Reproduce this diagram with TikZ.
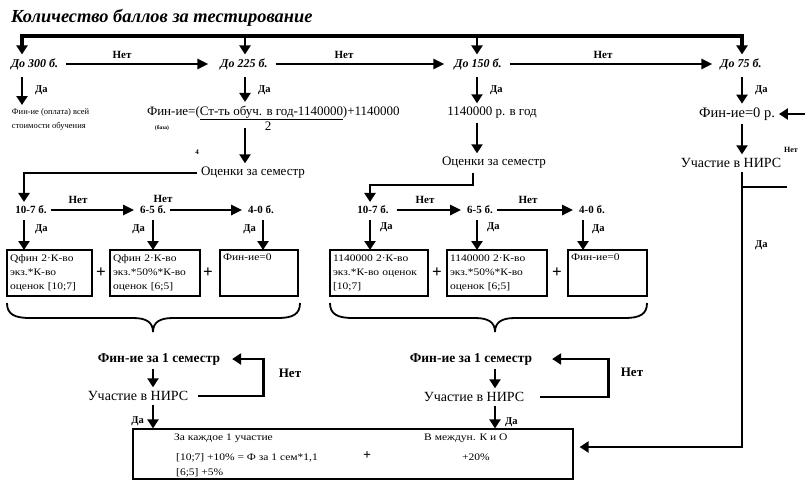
\documentclass[tikz,border=0pt]{standalone}
\usepackage{fontspec}
\setmainfont{Liberation Serif}
\newfontfamily\widefont[FakeStretch=1.15]{Liberation Serif}
\usetikzlibrary{arrows.meta,calc}
\begin{document}
\begin{tikzpicture}[x=1pt,y=-1pt,
  ttl/.style={font=\fontsize{18.4}{20}\selectfont\bfseries\itshape, inner sep=0pt},
  rowa/.style={font=\fontsize{12}{13}\selectfont\bfseries\itshape, inner sep=1pt, outer sep=3pt},
  rowc/.style={font=\fontsize{11}{12}\selectfont\bfseries, inner sep=1pt, outer sep=3pt},
  mid/.style={font=\fontsize{13}{14}\selectfont, inner sep=1pt, outer sep=3pt},
  big/.style={font=\fontsize{14}{15}\selectfont, inner sep=1pt, outer sep=3pt},
  midb/.style={font=\fontsize{13.5}{15}\selectfont\bfseries, inner sep=1pt, outer sep=3pt},
  small/.style={font=\fontsize{8.5}{14}\selectfont, inner sep=1pt, outer sep=3pt},
  yn/.style={font=\fontsize{10.5}{11}\selectfont\bfseries, inner sep=0pt},
  ynn/.style={font=\fontsize{11}{12}\selectfont\bfseries, inner sep=0pt},
  ynb/.style={font=\fontsize{13}{14}\selectfont\bfseries, inner sep=0pt},
  box/.style={draw, line width=1.2pt, inner xsep=3pt, inner ysep=3pt, align=left,
    font=\widefont\fontsize{10}{14}\selectfont, minimum height=46pt, outer sep=0pt},
  btxt/.style={font=\widefont\fontsize{10}{11}\selectfont, anchor=west, inner sep=0pt},
  plus/.style={font=\fontsize{17}{17}\selectfont\bfseries, inner sep=0pt},
  arr/.style={line width=2.8pt, line join=miter, -{Triangle[width=11pt,length=9pt]}},
  harr/.style={line width=2.6pt, -{Triangle[width=10pt,length=11pt]}},
  ln/.style={line width=2.8pt},
  brc/.style={line width=1.8pt},
  dbl/.style={double, double distance=1.6pt, line width=0.6pt}
]
\useasboundingbox (0,0) rectangle (805,480);

% title and bus
\node[ttl, anchor=west] (title) at (11,18) {Количество баллов за тестирование};
\coordinate (b1) at (22,36);
\coordinate (b2) at (245,36);
\coordinate (b3) at (477,36);
\coordinate (b4) at (742,36);

% row 1
\node[rowa, anchor=west] (d300) at (7,64) {До 300 б.};
\node[rowa] (d225) at (244,64) {До 225 б.};
\node[rowa] (d150) at (478,64) {До 150 б.};
\node[rowa] (d75) at (741,64) {До 75 б.};

\draw[arr, line width=3.2pt] (b4) -- (b1) -- (b1 |- d300.north);
\draw[arr, line width=3.2pt] (b1) -- (b4) -- (b4 |- d75.north);
\draw[arr] (b2) -- (b2 |- d225.north);
\draw[arr] (b3) -- (b3 |- d150.north);

\draw[harr, shorten <=4pt, shorten >=8pt] (d300.east) -- (d225.west);
\draw[harr, shorten <=4pt, shorten >=6pt] (d225.east) -- (d150.west);
\draw[harr, shorten <=4pt, shorten >=4pt] (d150.east) -- (d75.west);
\node[ynn] (n1) at (122,55) {Нет};
\node[ynn] (n2) at (344,55) {Нет};
\node[ynn] (n3) at (603,55) {Нет};

% row 2
\node[small, anchor=north west, align=left] (fin1) at (8,105) {Фин-ие (оплата) всей\\стоимости обучения};
\node[mid, anchor=west] (form) at (143,113) {Фин-ие=(\underline{Ст-ть обуч. в год-1140000})+1140000};
\node[font=\fontsize{5.5}{6}\selectfont\bfseries, inner sep=0pt] (baza) at (162,128) {(база)};
\node[mid] (two) at (268,126) {2};
\node[font=\fontsize{7}{8}\selectfont\bfseries, inner sep=0pt] (four) at (197,152) {4};
\node[mid] (r150) at (492,113) {1140000 р. в год};
\node[font=\fontsize{14.5}{16}\selectfont, inner sep=1pt, outer sep=3pt] (fin0) at (737,114) {Фин-ие=0 р.};

\draw[arr, shorten <=3pt] (d300.south -| b1) -- (fin1.north -| b1);
\node[yn, anchor=west] (y1) at (35,90) {Да};
\draw[arr, shorten <=3pt] (d225.south -| b2) -- (form.north -| b2);
\node[yn, anchor=west] (y2) at (258,90) {Да};
\draw[arr, shorten <=3pt] (d150.south -| b3) -- (r150.north -| b3);
\node[yn, anchor=west] (y3) at (490,90) {Да};
\draw[arr, shorten <=3pt] (d75.south -| b4) -- (fin0.north -| b4);
\node[yn, anchor=west] (y4) at (755,90) {Да};

% Оценки
\node[mid] (ocL) at (253,173) {Оценки за семестр};
\node[mid] (ocR) at (494,163) {Оценки за семестр};
\draw[arr, shorten <=4pt] (form.south -| b2) -- (ocL.north -| b2);
\draw[arr] (r150.south -| b3) -- (ocR.north -| b3);

% row 3 left
\node[rowc] (g1) at (31,210) {10-7 б.};
\node[rowc] (g2) at (153,210) {6-5 б.};
\node[rowc] (g3) at (261,210) {4-0 б.};
\coordinate (cl) at (24,173);
\draw[arr] (ocL.west) -- (cl) -- (cl |- g1.north);
\draw[harr, shorten >=2pt] (g1.east) -- (g2.west);
\draw[harr, shorten >=2pt] (g2.east) -- (g3.west);
\node[ynn] (n4) at (78,200) {Нет};
\node[ynn] (n5) at (163,199) {Нет};

% row 3 right
\node[rowc] (h1) at (373,210) {10-7 б.};
\node[rowc] (h2) at (480,210) {6-5 б.};
\node[rowc] (h3) at (592,210) {4-0 б.};
\coordinate (cr1) at (473,185);
\coordinate (cr2) at (370,185);
\draw[ln] (ocR.south -| cr1) -- (cr1) -- (cr2);
\draw[arr] (cr1) -- (cr2) -- (cr2 |- h1.north);
\draw[harr, shorten <=4pt, shorten >=2pt] (h1.east) -- (h2.west);
\draw[harr, shorten >=2pt] (h2.east) -- (h3.west);
\node[ynn] (n6) at (425,200) {Нет};
\node[ynn] (n7) at (528,200) {Нет};

% boxes left
\node[box, text width=79pt] (bx1) at (49.5,273) {Qфин 2·К-во\\экз.*К-во\\оценок [10;7]};
\node[box, text width=84pt] (bx2) at (155,273) {Qфин 2·К-во\\экз.*50\%*К-во\\оценок [6;5]};
\node[box, text width=72pt] (bx3) at (259,273) {Фин-ие=0\\\strut\\\strut};
\node[plus] (p1) at (101,273) {+};
\node[plus] (p2) at (208,273) {+};

% boxes right
\node[box, text width=92pt] (cx1) at (379,273) {1140000 2·К-во\\экз.*К-во оценок\\{[}10;7{]}};
\node[box, text width=94pt] (cx2) at (497,273) {1140000 2·К-во\\экз.*50\%*К-во\\оценок [6;5]};
\node[box, text width=73pt] (cx3) at (607.5,273) {Фин-ие=0\\\strut\\\strut};
\node[plus] (p3) at (437,273) {+};
\node[plus] (p4) at (557,273) {+};

% arrows into boxes
\draw[arr, shorten <=2pt] ([xshift=-7pt]g1.south) -- ([xshift=-7pt]g1.south |- bx1.north);
\node[yn, anchor=west] (y5) at (35,229) {Да};
\draw[arr, shorten <=2pt] (g2.south) -- (g2.south |- bx2.north);
\node[yn, anchor=east] (y6) at (145,229) {Да};
\draw[arr, shorten <=2pt] ([xshift=2pt]g3.south) -- ([xshift=2pt]g3.south |- bx3.north);
\node[yn, anchor=east] (y7) at (256,229) {Да};
\draw[arr, shorten <=2pt] ([xshift=-3pt]h1.south) -- ([xshift=-3pt]h1.south |- cx1.north);
\node[yn, anchor=west] (y8) at (380,227) {Да};
\draw[arr, shorten <=2pt] ([xshift=-3pt]h2.south) -- ([xshift=-3pt]h2.south |- cx2.north);
\node[yn, anchor=west] (y9) at (487,227) {Да};
\draw[arr, shorten <=2pt] ([xshift=-9pt]h3.south) -- ([xshift=-9pt]h3.south |- cx3.north);
\node[yn, anchor=west] (y10) at (592,229) {Да};

% braces
\coordinate (tipL) at (153,332);
\coordinate (tipR) at (495,332);
\draw[brc] (7,303) .. controls (7,314) and (14,318) .. (30,318) -- (133,318)
  .. controls (146,318) and (153,322) .. (tipL)
  .. controls (153,322) and (160,318) .. (173,318) -- (278,318)
  .. controls (293,318) and (300,314) .. (300,303);
\draw[brc] (330,303) .. controls (330,314) and (337,318) .. (353,318) -- (475,318)
  .. controls (488,318) and (495,322) .. (tipR)
  .. controls (495,322) and (502,318) .. (515,318) -- (625,318)
  .. controls (640,318) and (647,314) .. (647,303);

% semester nodes
\node[midb] (semL) at (159,359) {Фин-ие за 1 семестр};
\node[midb] (semR) at (471,359) {Фин-ие за 1 семестр};
\node[big] (nirsL) at (138,396) {Участие в НИРС};
\node[big] (nirsR) at (474,397) {Участие в НИРС};
\draw[dbl] ([yshift=-5pt]tipL) -- (tipL |- semL.north);
\draw[dbl] ([yshift=-5pt]tipR) -- (tipR |- semR.north);
\draw[arr] (semL.south -| tipL) -- (nirsL.north -| tipL);
\draw[arr] (semR.south -| tipR) -- (nirsR.north -| tipR);
\draw[arr, line join=miter, shorten <=6pt, shorten >=8pt] (nirsL.east) -- ++(71,0) |- (semL.east);
\node[ynb] (n8) at (290,373) {Нет};
\draw[arr, line join=miter, shorten <=12pt, shorten >=16pt] (nirsR.east) -- ++(80,0) |- (semR.east);
\node[ynb] (n9) at (632,372) {Нет};

% bottom box
\node[draw, line width=1.2pt, minimum width=440pt, minimum height=50pt, inner sep=0pt] (bbox) at (353,454) {};
\draw[arr] (nirsL.south -| tipL) -- (bbox.north -| tipL);
\node[yn, anchor=east] (y11) at (144,421) {Да};
\draw[arr] (nirsR.south -| tipR) -- (bbox.north -| tipR);
\node[yn, anchor=west] (y12) at (505,422) {Да};
\node[btxt] (t1) at (174,438) {За каждое 1 участие};
\node[btxt] (t2) at (176,458) {[10;7] +10\% = Ф за 1 сем*1,1};
\node[btxt] (t3) at (176,473) {[6;5] +5\%};
\node[plus, font=\fontsize{14}{14}\selectfont\bfseries] (p5) at (367,456) {+};
\node[btxt] (t4) at (424,438) {В междун. К и О};
\node[btxt] (t5) at (462,457) {+20\%};

% right column
\node[big] (nirs0) at (731,163) {Участие в НИРС};
\draw[arr] (fin0.south -| b4) -- (nirs0.north -| b4);
\node[font=\fontsize{8}{9}\selectfont\bfseries, inner sep=0pt] (n10) at (791,150) {Нет};
\coordinate (cbr) at (742,447);
\draw[arr, shorten >=6pt] (nirs0.south -| cbr) -- (cbr) -- (bbox.east |- cbr);
\node[yn, anchor=west] (y13) at (755,245) {Да};
\coordinate (brN) at (742,187);
\coordinate (nEnd) at (787,187);
\draw[ln] (brN) -- (nEnd);
\coordinate (nStart) at (805,114);
\draw[arr] (nStart) -- (fin0.east);
\end{tikzpicture}
\end{document}
